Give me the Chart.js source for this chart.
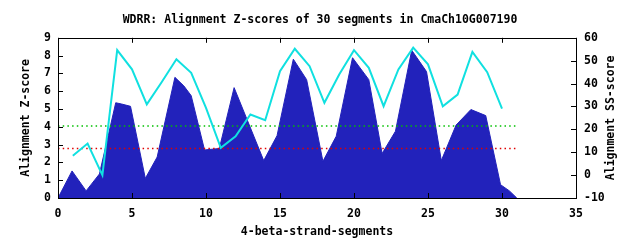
<!DOCTYPE html>
<html>
<head>
<meta charset="utf-8">
<script src="https://cdn.jsdelivr.net/npm/chart.js@4/dist/chart.umd.min.js"></script>
<style>
  html, body { margin: 0; padding: 0; background: #fff; }
  #wrap { width: 640px; height: 240px; }
</style>
</head>
<body>
<div id="wrap"><canvas id="grafico"></canvas></div>
<script>
// Perfil do Z-score (pontos de quebra)
const zPosicoes = [0, 0.95, 1.9, 2.8, 3.9, 4.3, 4.9, 5.9, 6.7, 7.9, 8.5, 9.0, 9.9, 10.9, 11.9, 13.9,
  14.8, 15.9, 16.8, 17.9, 18.8, 19.9, 21.0, 21.9, 22.8, 23.9, 24.9, 25.9, 26.9, 27.9, 28.9, 29.9, 30.5, 31.0];
const zScores = [0, 1.52, 0.4, 1.35, 5.35, 5.28, 5.15, 1.1, 2.3, 6.78, 6.3, 5.75, 2.7, 2.78, 6.2, 2.1,
  3.5, 7.8, 6.65, 2.06, 3.47, 7.88, 6.65, 2.5, 3.75, 8.3, 7.1, 2.1, 4.1, 4.97, 4.63, 0.75, 0.4, 0];

// SS-score por segmento (eixo da direita)
const segmentos = [1, 2, 3, 4, 5, 6, 7, 8, 9, 10, 11, 12, 13, 14, 15, 16, 17, 18, 19, 20,
  21, 22, 23, 24, 25, 26, 27, 28, 29, 30];
const ssScores = [8.5, 13.8, 0, 54.6, 46.2, 30.9, 40.6, 50.6, 44.7, 29.4, 11.9, 17, 26.5, 24, 45.4,
  55.2, 47.6, 31.6, 44, 54.6, 46.9, 30.1, 46.2, 55.7, 48.4, 30.1, 35.2, 53.8, 45, 29.1];

// Linhas de corte
const limiteX = [0, 31];
const limiteSuperior = 4.05;
const limiteInferior = 2.78;

// Eixos
const eixoX = { min: 0, max: 35, passo: 5 };
const eixoZ = { min: 0, max: 9, passo: 1 };
const eixoSS = { min: -10, max: 60, passo: 10 };

const fonte = { family: "'DejaVu Sans Mono', monospace", size: 11.5, weight: 'bold' };
const tituloDireita = 'Alignment SS-score';

// Moldura e marcas internas no estilo gnuplot
const molduraPlugin = {
  id: 'moldura',
  afterDatasetsDraw(chart) {
    const { ctx, chartArea: a, scales } = chart;
    const tam = 5;
    ctx.save();
    ctx.strokeStyle = '#000';
    ctx.lineWidth = 1;
    ctx.beginPath();
    scales.x.ticks.forEach(t => {
      const px = Math.round(scales.x.getPixelForValue(t.value)) + 0.5;
      ctx.moveTo(px, a.bottom); ctx.lineTo(px, a.bottom - tam);
      ctx.moveTo(px, a.top); ctx.lineTo(px, a.top + tam);
    });
    scales.y.ticks.forEach(t => {
      const py = Math.round(scales.y.getPixelForValue(t.value)) + 0.5;
      ctx.moveTo(a.left, py); ctx.lineTo(a.left + tam, py);
    });
    scales.y2.ticks.forEach(t => {
      const py = Math.round(scales.y2.getPixelForValue(t.value)) + 0.5;
      ctx.moveTo(a.right, py); ctx.lineTo(a.right - tam, py);
    });
    ctx.stroke();
    ctx.strokeRect(Math.round(a.left) + 0.5, Math.round(a.top) + 0.5,
      Math.round(a.right - a.left), Math.round(a.bottom - a.top));
    ctx.restore();
  },
  afterDraw(chart) {
    // título do eixo da direita lido de baixo para cima, como no gnuplot
    const { ctx, chartArea: a } = chart;
    ctx.save();
    ctx.translate(611, (a.top + a.bottom) / 2);
    ctx.rotate(-Math.PI / 2);
    ctx.font = `${fonte.weight} ${fonte.size}px ${fonte.family}`;
    ctx.fillStyle = '#000';
    ctx.textAlign = 'center';
    ctx.textBaseline = 'middle';
    ctx.fillText(tituloDireita, 0, 0);
    ctx.restore();
  }
};

const linhaLimite = (valor, cor) => ({
  data: limiteX.map(x => ({ x: x, y: valor })),
  yAxisID: 'y',
  borderColor: cor,
  borderWidth: 1.5,
  borderDash: [1.5, 3.2],
  pointRadius: 0,
  fill: false,
  order: 2
});

new Chart(document.getElementById('grafico').getContext('2d'), {
  type: 'line',
  data: {
    datasets: [
      {
        data: segmentos.map((s, i) => ({ x: s, y: ssScores[i] })),
        yAxisID: 'y2',
        borderColor: '#10e0e0',
        borderWidth: 2,
        pointRadius: 0,
        fill: false,
        order: 1
      },
      linhaLimite(limiteSuperior, '#00c000'),
      linhaLimite(limiteInferior, '#e00000'),
      {
        data: zPosicoes.map((x, i) => ({ x: x, y: zScores[i] })),
        yAxisID: 'y',
        borderColor: '#2222bb',
        backgroundColor: '#2222bb',
        borderWidth: 1,
        pointRadius: 0,
        fill: 'origin',
        order: 3
      }
    ]
  },
  options: {
    responsive: true,
    maintainAspectRatio: false,
    animation: false,
    layout: { padding: 0 },
    plugins: {
      legend: { display: false },
      tooltip: { enabled: false },
      title: {
        display: true,
        text: 'WDRR: Alignment Z-scores of 30 segments in CmaCh10G007190',
        color: '#000',
        font: fonte,
        padding: { top: 13, bottom: 11 }
      }
    },
    scales: {
      x: {
        type: 'linear',
        min: eixoX.min,
        max: eixoX.max,
        grid: { display: false, drawTicks: false },
        border: { display: false },
        ticks: { stepSize: eixoX.passo, color: '#000', font: fonte, padding: 9, maxRotation: 0 },
        title: { display: true, text: '4-beta-strand-segments', color: '#000', font: fonte, padding: { bottom: 1 } },
        afterFit: s => { s.height = 42; }
      },
      y: {
        position: 'left',
        min: eixoZ.min,
        max: eixoZ.max,
        grid: { display: false, drawTicks: false },
        border: { display: false },
        ticks: { stepSize: eixoZ.passo, color: '#000', font: fonte, padding: 7 },
        title: { display: true, text: 'Alignment Z-score', color: '#000', font: fonte, padding: { top: 19 } },
        afterFit: s => { s.width = 58; }
      },
      y2: {
        position: 'right',
        min: eixoSS.min,
        max: eixoSS.max,
        grid: { display: false, drawTicks: false },
        border: { display: false },
        ticks: { stepSize: eixoSS.passo, color: '#000', font: fonte, padding: 8 },
        afterFit: s => { s.width = 64; }
      }
    }
  },
  plugins: [molduraPlugin]
});
</script>
</body>
</html>
